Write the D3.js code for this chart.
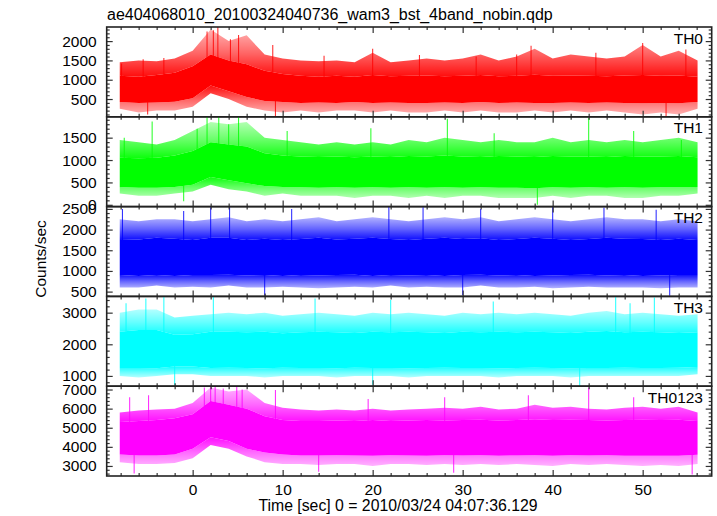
<!DOCTYPE html>
<html><head><meta charset="utf-8">
<script src="https://cdn.jsdelivr.net/npm/d3@7"></script>
<style>
body{margin:0;background:#fff}
text{font-family:"Liberation Sans",Arial,Helvetica,sans-serif;fill:#000}
</style>
</head><body>
<svg id="chart" width="717" height="516"></svg>
<script>
// ---- data (per ~2 s bin envelopes of the noisy light curves) ----
const timeBins = [-8.1,-6,-4,-2,0,2,4,6,8,10,12,14,16,18,20,22,24,26,28,30,32,34,36,38,40,42,44,46,48,50,52,54,56.1];
const seriesNames = ["TH0","TH1","TH2","TH3","TH0123"];
const seriesColors = ["#ff0000","#00ff00","#0000ff","#00ffff","#ff00ff"];

const th0Hi     = [1450,1500,1480,1550,1750,2300,2000,2150,1650,1550,1500,1480,1500,1450,1700,1450,1500,1550,1500,1550,1650,1500,1600,1800,1550,1650,1600,1550,1600,1900,1600,1750,1500];
const th0Lo     = [250,150,200,200,300,650,500,300,200,150,200,150,200,200,150,200,150,150,200,150,200,150,150,200,150,200,150,200,150,100,150,100,250];
const th0CoreHi = [1100,1080,1120,1180,1350,1650,1500,1400,1230,1150,1100,1080,1100,1080,1120,1090,1100,1110,1090,1100,1120,1090,1100,1130,1100,1110,1100,1090,1110,1120,1100,1110,1080];
const th0CoreLo = [420,400,410,430,520,850,700,550,450,420,400,410,400,420,400,410,400,400,410,400,420,400,410,400,400,410,400,410,400,390,400,390,420];
const th0SpikeT = [-7.9,-5.5,-3.2,1.6,2.3,2.8,4.2,5.1,8.9,14.6,20.0,25.2,31.5,36.0,37.6,44.8,50.0,54.8,9.2,52.6,-5.0];
const th0SpikeV = [1420,1530,1560,2250,2280,2365,2050,2160,1900,1620,1800,1640,1600,1650,1880,1700,1950,1780,40,40,100];

const th1Hi     = [1450,1400,1350,1450,1650,1850,1800,1850,1500,1450,1400,1350,1400,1350,1400,1350,1450,1400,1500,1450,1400,1450,1400,1400,1500,1400,1450,1400,1450,1400,1450,1500,1400];
const th1Lo     = [250,200,200,250,300,450,350,300,200,250,200,200,200,150,200,200,150,200,150,200,200,150,150,150,200,150,200,200,150,150,200,200,250];
const th1CoreHi = [1050,1040,1050,1100,1200,1400,1350,1300,1150,1100,1080,1070,1080,1060,1080,1070,1090,1080,1100,1080,1070,1090,1080,1070,1090,1080,1080,1070,1090,1080,1080,1090,1060];
const th1CoreLo = [400,380,380,400,450,620,550,480,420,400,390,380,390,380,390,380,390,380,390,380,390,380,380,370,390,380,390,380,390,380,390,390,400];
const th1SpikeT = [-7.6,-4.5,0.5,1.6,2.9,4.0,5.1,10.5,19.8,28.3,33.5,44.0,49.0,54.3,38.3,-1.0];
const th1SpikeV = [1500,1860,1700,1970,1966,1800,1966,1650,1710,1920,1600,1940,1650,1450,0,80];

const th2Hi     = [2250,2200,2250,2250,2200,2250,2300,2200,2250,2200,2250,2300,2200,2250,2300,2250,2200,2250,2300,2250,2300,2200,2250,2300,2250,2200,2250,2300,2250,2250,2200,2250,2200];
const th2Lo     = [600,600,650,600,620,600,650,600,600,620,600,580,600,620,600,650,600,620,600,600,650,600,600,620,580,600,620,600,600,600,580,600,600];
const th2CoreHi = [1750,1760,1800,1780,1750,1800,1800,1750,1780,1750,1770,1800,1760,1780,1800,1770,1750,1780,1800,1770,1790,1750,1770,1800,1780,1750,1770,1800,1780,1770,1750,1780,1750];
const th2CoreLo = [900,880,900,880,900,900,910,890,900,880,900,890,900,910,880,900,890,900,880,900,910,890,900,880,890,900,910,890,900,880,890,900,900];
const th2SpikeT = [-7.8,-1.0,2.0,4.1,11.0,21.8,25.6,32.0,40.0,45.7,51.5,8.0,30.0,53.0];
const th2SpikeV = [2500,2450,2540,2550,2500,2556,2540,2500,2550,2530,2480,400,420,400];

const th3Hi     = [3000,3100,3100,2850,2900,2950,3000,2950,3000,2900,2950,3000,2950,2900,3000,2950,3000,2950,2900,3000,2950,3000,2950,3000,2950,2900,3000,3050,2950,3000,2950,2900,2950];
const th3Lo     = [1000,950,1000,1050,1050,1000,1000,1000,950,1000,1000,1000,950,1000,1000,1000,950,1000,1000,1000,1000,950,1000,1000,1000,950,1000,1000,1000,1000,1000,1000,1050];
const th3CoreHi = [2400,2450,2450,2300,2320,2400,2400,2380,2400,2350,2380,2400,2380,2360,2400,2380,2400,2380,2360,2400,2380,2400,2380,2400,2380,2360,2400,2420,2380,2400,2380,2360,2380];
const th3CoreLo = [1250,1250,1240,1300,1300,1250,1260,1250,1240,1260,1250,1250,1240,1260,1250,1250,1240,1250,1260,1250,1250,1240,1250,1260,1250,1240,1250,1250,1260,1250,1250,1260,1280];
const th3SpikeT = [-7.4,-5.2,-3.2,2.3,13.6,22.0,33.4,47.0,48.6,51.3,-2.0,20.0,43.0];
const th3SpikeV = [3300,3450,3500,3500,3450,3400,3350,3500,3300,3480,700,720,680];

const th0123Hi     = [5800,5900,5950,6000,6300,7100,6900,7000,6300,6050,5950,5900,5950,5900,6000,5900,5950,6000,6050,6000,6100,5950,6000,6200,6050,6100,6000,5950,6050,6100,6000,6100,5800];
const th0123Lo     = [3200,3100,3100,3150,3400,4100,3900,3500,3200,3100,3100,3050,3100,3100,3000,3100,3100,3050,3100,3050,3100,3050,3100,3050,3000,3100,3050,3100,3050,3000,3050,3000,3100];
const th0123CoreHi = [5300,5350,5400,5500,5700,6400,6200,6000,5600,5400,5350,5350,5380,5350,5400,5350,5380,5400,5380,5400,5420,5380,5400,5450,5400,5420,5400,5380,5400,5420,5400,5420,5350];
const th0123CoreLo = [3600,3550,3550,3600,3900,4500,4300,3900,3700,3600,3550,3550,3560,3550,3540,3560,3550,3540,3560,3550,3560,3540,3550,3560,3540,3560,3550,3560,3540,3530,3540,3530,3580];
const th0123SpikeT = [-7.0,-4.9,1.3,2.0,2.5,3.4,4.9,5.5,9.2,19.5,28.0,37.3,44.0,49.0,-6.5,14.0,29.0,55.5];
const th0123SpikeV = [6600,6700,7100,7174,7174,7050,7174,7000,6970,6500,6600,6700,7100,6600,2600,2700,2650,2550];

const yDomains = [[40,2365],[-40,1966],[384,2556],[675,3514],[2474,7174]];
const yTickLabels = [[500,1000,1500,2000],[0,500,1000,1500],[500,1000,1500,2000,2500],[1000,2000,3000],[3000,4000,5000,6000,7000]];
const yMinorStep = [100,100,100,200,200];
const xTickLabels = [0,10,20,30,40,50];
const xDomain = [-9.55,57.67];

const titleText = "ae404068010_20100324040736_wam3_bst_4band_nobin.qdp";
const xLabelText = "Time [sec] 0 = 2010/03/24 04:07:36.129";
const yLabelText = "Counts/sec";

// ---- build ----
const series = [
  {hi:th0Hi, lo:th0Lo, cHi:th0CoreHi, cLo:th0CoreLo, sT:th0SpikeT, sV:th0SpikeV},
  {hi:th1Hi, lo:th1Lo, cHi:th1CoreHi, cLo:th1CoreLo, sT:th1SpikeT, sV:th1SpikeV},
  {hi:th2Hi, lo:th2Lo, cHi:th2CoreHi, cLo:th2CoreLo, sT:th2SpikeT, sV:th2SpikeV},
  {hi:th3Hi, lo:th3Lo, cHi:th3CoreHi, cLo:th3CoreLo, sT:th3SpikeT, sV:th3SpikeV},
  {hi:th0123Hi, lo:th0123Lo, cHi:th0123CoreHi, cLo:th0123CoreLo, sT:th0123SpikeT, sV:th0123SpikeV}
];

const svg = d3.select("#chart");
const defs = svg.append("defs");
const left = 106.7, right = 711.7, top0 = 27, bottom0 = 476;
const ph = (bottom0 - top0) / 5;
const x = d3.scaleLinear().domain(xDomain).range([left, right]);
const FS = 15.5;

const xMinor = d3.range(-8, 57, 2).filter(v => v % 10 !== 0);

seriesColors.forEach((c, i) => {
  const up = defs.append("linearGradient").attr("id", "gu" + i).attr("x1", 0).attr("y1", 0).attr("x2", 0).attr("y2", 1);
  up.append("stop").attr("offset", 0).attr("stop-color", c).attr("stop-opacity", 0.3);
  up.append("stop").attr("offset", 0.5).attr("stop-color", c).attr("stop-opacity", 0.6);
  up.append("stop").attr("offset", 1).attr("stop-color", c).attr("stop-opacity", 0.95);
  const dn = defs.append("linearGradient").attr("id", "gd" + i).attr("x1", 0).attr("y1", 0).attr("x2", 0).attr("y2", 1);
  dn.append("stop").attr("offset", 0).attr("stop-color", c).attr("stop-opacity", 0.95);
  dn.append("stop").attr("offset", 0.5).attr("stop-color", c).attr("stop-opacity", 0.6);
  dn.append("stop").attr("offset", 1).attr("stop-color", c).attr("stop-opacity", 0.3);
});

series.forEach((s, i) => {
  const pt = top0 + i * ph, pb = pt + ph;
  const y = d3.scaleLinear().domain(yDomains[i]).range([pb, pt]);
  const g = svg.append("g");
  const clipId = "clip" + i;
  defs.append("clipPath").attr("id", clipId).append("rect")
     .attr("x", left).attr("y", pt).attr("width", right - left).attr("height", ph);

  const rows = timeBins.map((t, k) => ({t, hi:s.hi[k], lo:s.lo[k], cHi:s.cHi[k], cLo:s.cLo[k]}));
  const upper = d3.area().x(d => x(d.t)).y0(d => y(d.cHi)).y1(d => y(d.hi));
  const lower = d3.area().x(d => x(d.t)).y0(d => y(d.lo)).y1(d => y(d.cLo));
  const core = d3.area().x(d => x(d.t)).y0(d => y(d.cLo)).y1(d => y(d.cHi));
  const dg = g.append("g").attr("clip-path", `url(#${clipId})`);

  // individual tall spikes
  const mid = t => {
    const k = d3.bisectLeft(timeBins, t);
    const j = Math.min(Math.max(k, 0), timeBins.length - 1);
    return (s.cHi[j] + s.cLo[j]) / 2;
  };
  const spikeLine = d3.line().x(d => x(d[0])).y(d => y(d[1]));
  s.sT.forEach((t, k) => {
    dg.append("path").attr("d", spikeLine([[t, mid(t)], [t, s.sV[k]]]))
      .attr("stroke", seriesColors[i]).attr("stroke-width", 1.1).attr("stroke-opacity", 0.8).attr("fill", "none");
  });

  dg.append("path").datum(rows).attr("d", upper).attr("fill", `url(#gu${i})`);
  dg.append("path").datum(rows).attr("d", lower).attr("fill", `url(#gd${i})`);
  dg.append("path").datum(rows).attr("d", core).attr("fill", seriesColors[i]);

  // y axes (left with labels, right ticks only) - ticks point inward
  const yMin = d3.range(Math.ceil(yDomains[i][0] / yMinorStep[i]) * yMinorStep[i], yDomains[i][1], yMinorStep[i])
                 .filter(v => !yTickLabels[i].includes(v));
  const yl = g.append("g").attr("transform", `translate(${left},0)`)
    .call(d3.axisLeft(y).tickValues(yTickLabels[i]).tickSize(-6).tickPadding(10).tickFormat(d3.format("d")));
  yl.selectAll("text").style("font-size", FS + "px");
  g.append("g").attr("transform", `translate(${left},0)`)
    .call(d3.axisLeft(y).tickValues(yMin).tickSize(-3).tickFormat(""));
  g.append("g").attr("transform", `translate(${right},0)`)
    .call(d3.axisRight(y).tickValues(yTickLabels[i]).tickSize(-6).tickFormat(""));
  g.append("g").attr("transform", `translate(${right},0)`)
    .call(d3.axisRight(y).tickValues(yMin).tickSize(-3).tickFormat(""));

  // x ticks top and bottom
  const xb = g.append("g").attr("transform", `translate(0,${pb})`)
    .call(d3.axisBottom(x).tickValues(xTickLabels).tickSize(-6).tickPadding(8)
          .tickFormat(i === 4 ? d3.format("d") : ""));
  xb.selectAll("text").style("font-size", FS + "px");
  g.append("g").attr("transform", `translate(0,${pb})`)
    .call(d3.axisBottom(x).tickValues(xMinor).tickSize(-3).tickFormat(""));
  g.append("g").attr("transform", `translate(0,${pt})`)
    .call(d3.axisTop(x).tickValues(xTickLabels).tickSize(-6).tickFormat(""));
  g.append("g").attr("transform", `translate(0,${pt})`)
    .call(d3.axisTop(x).tickValues(xMinor).tickSize(-3).tickFormat(""));

  g.selectAll(".domain").remove();
  g.selectAll(".tick line").attr("stroke", "#333").attr("stroke-width", 1.2);

  g.append("rect").attr("x", left).attr("y", pt).attr("width", right - left).attr("height", ph)
    .attr("fill", "none").attr("stroke", "#222").attr("stroke-width", 1.6);

  g.append("text").attr("x", 703).attr("y", pt + 16.5).attr("text-anchor", "end")
    .style("font-size", FS + "px").text(seriesNames[i]);
});

svg.selectAll(".tick text").attr("fill", "#000");

svg.append("text").attr("x", 107).attr("y", 20).style("font-size", "16px").text(titleText);
svg.append("text").attr("x", 398).attr("y", 511).attr("text-anchor", "middle")
   .style("font-size", "15.8px").text(xLabelText);
svg.append("text").attr("transform", "translate(46,259) rotate(-90)").attr("text-anchor", "middle")
   .style("font-size", FS + "px").text(yLabelText);
</script>
</body></html>
